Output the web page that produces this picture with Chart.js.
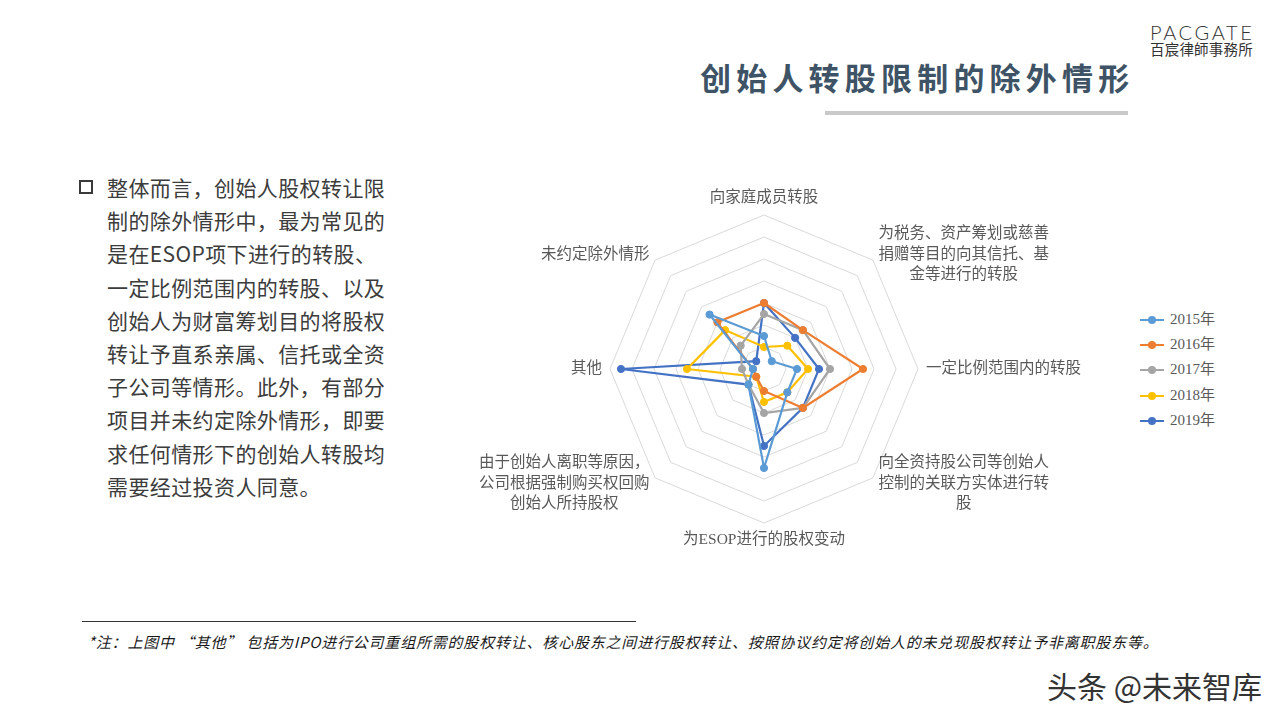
<!DOCTYPE html>
<html>
<head>
<meta charset="utf-8">
<script src="https://cdn.jsdelivr.net/npm/chart.js@4/dist/chart.umd.min.js"></script>
<style>
  html, body { margin:0; padding:0; background:#ffffff; }
  body { width:1280px; height:720px; position:relative; overflow:hidden; font-family:"Noto Sans CJK SC", "Noto Sans", sans-serif; }
  .abs { position:absolute; white-space:nowrap; }
  #title { left:700px; top:57px; line-height:40px; font-size:31px; font-weight:bold; letter-spacing:5.2px; color:#3e5466; }
  #titlebar { left:825px; top:111px; width:303px; height:4px; background:#c9c9c9; }
  #logo1 { left:1150px; top:19px; font-family:"Lato", sans-serif; font-weight:300; font-size:20px; letter-spacing:2.6px; color:#333; line-height:26px; }
  #logo2 { left:1150px; top:39px; font-size:14.5px; color:#333; line-height:20px; letter-spacing:0.2px; }
  #bullet { left:79px; top:180px; width:10px; height:10px; border:2.5px solid #3a3a3a; }
  #para { left:107px; top:171px; font-size:21px; line-height:33.2px; color:#3c3c3c; letter-spacing:0.4px; }
  #fnline { left:82px; top:621px; width:554px; height:1px; background:#333; }
  #fn { left:88px; top:632px; font-size:15px; line-height:20px; font-style:italic; color:#1a1a1a; letter-spacing:0.8px; }
  #wm { left:1047px; top:666px; font-size:30px; line-height:38px; color:#333; text-shadow:0 0 2px #fff; }
  #chartbox { position:absolute; left:460px; top:170px; width:640px; height:400px; }
  #legend { left:1140px; top:307px; font-family:"Liberation Serif","Noto Sans CJK SC",serif; font-size:15px; color:#595959; }
  .li { height:25.2px; line-height:25.2px; position:relative; }
  .li .ln { position:absolute; left:0; top:12px; width:24px; height:2px; }
  .li .dt { position:absolute; left:8px; top:9px; width:8px; height:8px; border-radius:50%; }
  .li .tx { position:absolute; left:30px; top:0; }
</style>
</head>
<body>
<div class="abs" id="title">创始人转股限制的除外情形</div>
<div class="abs" id="titlebar"></div>
<div class="abs" id="logo1">PACGATE</div>
<div class="abs" id="logo2">百宸律師事務所</div>
<div class="abs" id="bullet"></div>
<div class="abs" id="para">整体而言，创始人股权转让限<br>制的除外情形中，最为常见的<br>是在ESOP项下进行的转股、<br>一定比例范围内的转股、以及<br>创始人为财富筹划目的将股权<br>转让予直系亲属、信托或全资<br>子公司等情形。此外，有部分<br>项目并未约定除外情形，即要<br>求任何情形下的创始人转股均<br>需要经过投资人同意。</div>
<div id="chartbox"><canvas id="c"></canvas></div>
<div class="abs" id="legend"></div>
<div class="abs" id="fnline"></div>
<div class="abs" id="fn">*注：上图中 “其他” 包括为IPO进行公司重组所需的股权转让、核心股东之间进行股权转让、按照协议约定将创始人的未兑现股权转让予非离职股东等。</div>
<div class="abs" id="wm">头条 @未来智库</div>
<script>
const categories = [
  ["向家庭成员转股"],
  ["为税务、资产筹划或慈善", "捐赠等目的向其信托、基", "金等进行的转股"],
  ["一定比例范围内的转股"],
  ["向全资持股公司等创始人", "控制的关联方实体进行转", "股"],
  ["为ESOP进行的股权变动"],
  ["由于创始人离职等原因，", "公司根据强制购买权回购", "创始人所持股权"],
  ["其他"],
  ["未约定除外情形"]
];
const seriesNames = ["2015年", "2016年", "2017年", "2018年", "2019年"];
const v2015 = [3, 1, 3, 3, 9, 2, 1, 7];
const v2016 = [6, 5, 9, 5, 2, 1, 1, 6];
const v2017 = [5, 5, 6, 5, 4, 2, 2, 3];
const v2018 = [2, 3, 4, 3, 3, 1, 7, 5];
const v2019 = [6, 4, 5, 5, 7, 2, 13, 1];
const colors = ["#5b9bd5", "#ed7d31", "#a5a5a5", "#ffc000", "#4472c4"];
const axisMin = 0, axisMax = 14, axisStep = 2;

const allValues = [v2015, v2016, v2017, v2018, v2019];
const datasets = allValues.map((vals, i) => ({
  label: seriesNames[i],
  data: vals,
  borderColor: colors[i],
  backgroundColor: colors[i],
  pointBackgroundColor: colors[i],
  pointBorderColor: colors[i],
  borderWidth: 2.2,
  pointRadius: 3.6,
  pointBorderWidth: 1,
  fill: false,
  tension: 0
}));

// legend (HTML)
const leg = document.getElementById('legend');
seriesNames.forEach((n, i) => {
  const d = document.createElement('div');
  d.className = 'li';
  d.innerHTML = '<span class="ln" style="background:' + colors[i] + '"></span><span class="dt" style="background:' + colors[i] + '"></span><span class="tx">' + n + '</span>';
  leg.appendChild(d);
});

const labelPlugin = {
  id: 'pointLabelsCustom',
  afterDraw(chart) {
    const scale = chart.scales.r;
    const ctx = chart.ctx;
    ctx.save();
    ctx.font = '15.5px "Liberation Serif", "Noto Sans CJK SC", serif';
    ctx.fillStyle = '#595959';
    ctx.textBaseline = 'middle';
    const lh = 20.5;
    const n = categories.length;
    for (let i = 0; i < n; i++) {
      const lines = categories[i];
      const p = scale.getPointPosition(i, scale.drawingArea + 8);
      const widths = lines.map(t => ctx.measureText(t).width);
      const bw = Math.max(...widths);
      const bh = lines.length * lh;
      let cx, cy;
      if (i === 0) { cx = p.x; cy = p.y - 9; }
      else if (i === 4) { cx = p.x; cy = p.y + 9; }
      else if (i < 4) { cx = p.x + bw / 2; cy = p.y; }
      else { cx = p.x - bw / 2; cy = p.y; }
      ctx.textAlign = 'center';
      lines.forEach((t, k) => {
        ctx.fillText(t, cx, cy - bh / 2 + lh * (k + 0.5));
      });
    }
    ctx.restore();
  }
};

new Chart(document.getElementById('c'), {
  type: 'radar',
  data: { labels: categories.map(l => l.join('')), datasets },
  options: {
    responsive: true,
    maintainAspectRatio: false,
    animation: false,
    layout: { padding: { left: 150, right: 182, top: 45, bottom: 47 } },
    plugins: { legend: { display: false }, tooltip: { enabled: false } },
    scales: {
      r: {
        min: axisMin,
        max: axisMax,
        ticks: { stepSize: axisStep, display: false },
        grid: { color: '#d9d9d9', lineWidth: 1 },
        angleLines: { display: false },
        pointLabels: { display: false }
      }
    }
  },
  plugins: [labelPlugin]
});
</script>
</body>
</html>
